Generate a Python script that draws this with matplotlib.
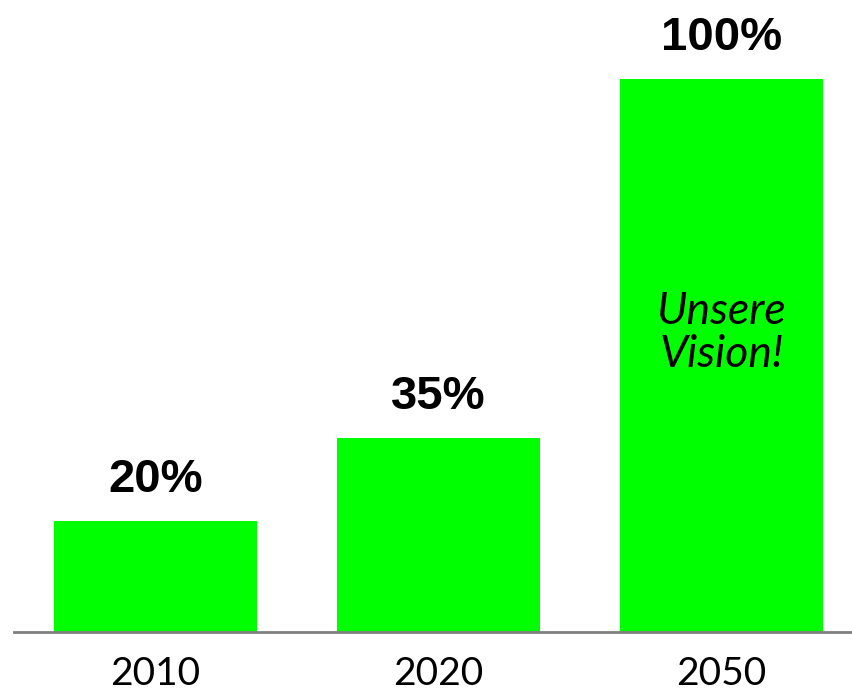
import matplotlib
matplotlib.use("Agg")
import matplotlib.pyplot as plt

years = ["2010", "2020", "2050"]
values = [20, 35, 100]
value_labels = ["20%", "35%", "100%"]
inner_text = "Unsere\nVision!"

fig = plt.figure(figsize=(8.52, 6.93), dpi=100)
ax = fig.add_axes([14/852, 61/693, 1 - 14/852, 632/693])
x = list(range(len(years)))
ax.bar(x, values, width=0.717, color="#00ff00", zorder=2)
ax.set_xlim(-0.5, 2.461)
ax.set_ylim(0, 632/5.53)

for s in ["top", "right", "left"]:
    ax.spines[s].set_visible(False)
ax.spines["bottom"].set_color("#808080")
ax.spines["bottom"].set_linewidth(2)
ax.set_yticks([])
ax.set_xticks(x)
ax.set_xticklabels(years, fontsize=28, family="Lato")
ax.tick_params(axis="x", length=0, pad=17)

for xi, v, lab in zip(x, values, value_labels):
    ax.annotate(lab, (xi, v), xytext=(0, 14), textcoords="offset points",
                ha="center", va="bottom", fontsize=34, fontweight="bold",
                family="Liberation Sans", clip_on=False, annotation_clip=False)

ax.text(x[2], 54.1, inner_text, ha="center", va="center", fontsize=32,
        style="italic", family="Lato", linespacing=1.05)

fig.savefig("out.png", dpi=100)
